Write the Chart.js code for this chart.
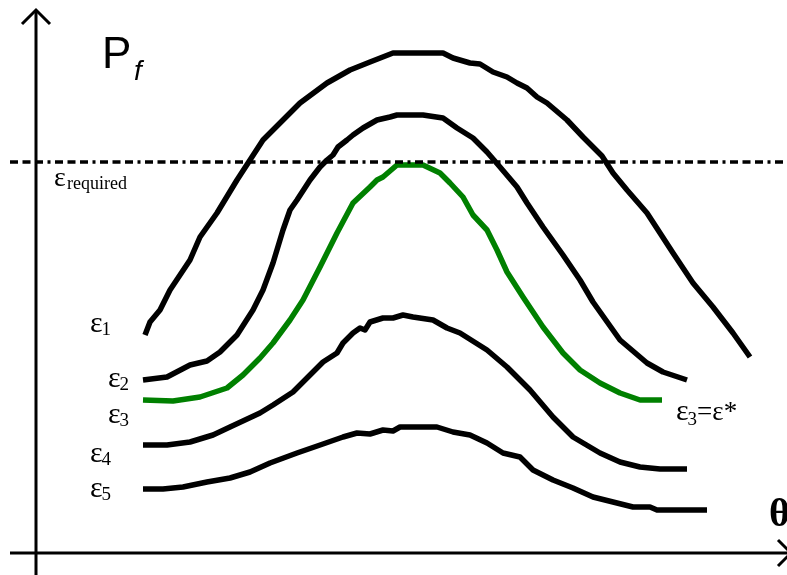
<!DOCTYPE html>
<html>
<head>
<meta charset="utf-8">
<script src="https://cdn.jsdelivr.net/npm/chart.js@4/dist/chart.umd.min.js"></script>
<style>
  html, body { margin: 0; padding: 0; background: #ffffff; }
  #wrap { width: 787px; height: 575px; }
</style>
</head>
<body>
<div id="wrap"><canvas id="c" width="787" height="575"></canvas></div>
<script>
// Failure probability Pf versus angle θ for five strain levels ε1..ε5
const theta1 = [109,114,124,134,154,164,181,201,214,227,244,264,291,314,334,357,407,417,434,444,457,471,481,491,501,511,531,547,566,577,591,611,624,637,657,677,697,714];
const pf1    = [218,231,243,263,293,316,340,373,393,413,430,450,470,483,491,500,500,495,490,489,481,476,470,465,456,450,433,416,397,380,363,340,320,300,270,246,220,196];

const theta2 = [107,131,154,171,184,201,217,227,237,247,254,261,274,284,291,297,302,311,317,327,341,354,361,387,407,421,437,451,464,481,491,507,527,544,557,584,611,627,651];
const pf2    = [173,176,188,192,201,218,243,263,290,323,343,353,373,386,393,398,406,413,418,425,433,436,438,438,435,425,415,401,386,366,350,326,298,273,251,213,190,181,173];

const theta3 = [107,137,164,191,207,224,237,254,267,284,301,317,334,341,347,361,387,404,414,427,437,451,461,471,487,507,527,544,564,584,604,626];
const pf3    = [153,152,156,165,178,195,210,233,253,286,320,350,366,373,376,388,388,380,370,356,338,323,303,281,256,226,200,183,170,160,153,153];

const theta4 = [107,131,154,177,194,224,237,257,271,287,301,307,317,324,329,334,347,357,367,377,397,411,424,451,471,494,517,537,564,584,604,624,651];
const pf4    = [108,108,111,118,126,140,148,161,175,191,200,210,220,225,223,231,235,235,238,236,233,225,220,203,186,163,136,116,100,91,86,84,84];

const theta5 = [107,127,147,171,194,214,234,261,287,307,321,334,347,357,364,401,417,434,451,467,484,497,517,537,557,577,597,614,621,671];
const pf5    = [64,64,66,71,75,81,90,100,109,116,120,119,123,122,126,126,121,118,110,100,96,83,73,65,56,51,46,46,43,43];

// Required level (dash-dot reference line)
const thetaReq = [-26, 751];
const pfReq    = [391, 391];

const curveNames = ['ε1', 'ε2', 'ε3', 'ε4', 'ε5'];

const toPoints = (xs, ys) => xs.map((x, i) => ({ x: x, y: ys[i] }));

const BLACK = '#000000';
const GREEN = '#008000';

function curve(label, xs, ys, color) {
  return {
    label: label,
    data: toPoints(xs, ys),
    borderColor: color,
    borderWidth: 5.5,
    pointRadius: 0,
    tension: 0,
    fill: false,
    borderJoinStyle: 'round',
    borderCapStyle: 'butt'
  };
}

// Axes with arrow heads, and the text annotations
const annotate = {
  id: 'annotate',
  beforeDatasetsDraw(chart) {
    const ctx = chart.ctx;
    const xs = chart.scales.x, ys = chart.scales.y;
    const ox = xs.getPixelForValue(0);
    const oy = ys.getPixelForValue(0);
    ctx.save();
    ctx.strokeStyle = BLACK;
    ctx.lineWidth = 3;
    ctx.lineCap = 'butt';
    // vertical axis
    ctx.beginPath();
    ctx.moveTo(ox, 575);
    ctx.lineTo(ox, 10);
    ctx.stroke();
    ctx.beginPath();
    ctx.moveTo(ox - 14, 24);
    ctx.lineTo(ox, 10);
    ctx.lineTo(ox + 14, 24);
    ctx.stroke();
    // horizontal axis
    ctx.beginPath();
    ctx.moveTo(10, oy);
    ctx.lineTo(790, oy);
    ctx.stroke();
    ctx.beginPath();
    ctx.moveTo(778, oy - 13);
    ctx.lineTo(791, oy);
    ctx.lineTo(778, oy + 13);
    ctx.stroke();
    ctx.restore();
  },
  afterDraw(chart) {
    const ctx = chart.ctx;
    ctx.save();
    ctx.fillStyle = BLACK;
    ctx.textBaseline = 'alphabetic';
    ctx.textAlign = 'left';
    const serif = '"Liberation Serif", "Times New Roman", serif';
    const sans = '"Liberation Sans", Arial, sans-serif';

    // Pf
    ctx.font = '44px ' + sans;
    ctx.fillText('P', 102, 68);
    ctx.font = 'italic 28px ' + sans;
    ctx.fillText('f', 134, 80);

    // θ
    ctx.font = 'bold 40px ' + serif;
    ctx.fillText('θ', 769, 526);

    // ε_required
    ctx.font = '28px ' + serif;
    ctx.fillText('ε', 54, 186);
    ctx.font = '18px ' + serif;
    ctx.fillText('required', 67, 189);

    // curve labels
    const pos = [[90, 332], [108, 387], [108, 423], [90, 462], [90, 497]];
    curveNames.forEach((name, i) => {
      const [x, y] = pos[i];
      ctx.font = '30px ' + serif;
      ctx.fillText(name[0], x, y);
      const w = ctx.measureText(name[0]).width;
      ctx.font = '19px ' + serif;
      ctx.fillText(name.slice(1), x + w - 1, y + 3);
    });

    // ε3 = ε*
    ctx.font = '30px ' + serif;
    let x = 676;
    ctx.fillText('ε', x, 420);
    x += ctx.measureText('ε').width - 1;
    ctx.font = '19px ' + serif;
    ctx.fillText('3', x, 425);
    x += ctx.measureText('3').width;
    ctx.font = '27px ' + serif;
    ctx.fillText('=ε*', x, 420);
    ctx.restore();
  }
};

new Chart(document.getElementById('c'), {
  type: 'line',
  data: {
    datasets: [
      {
        label: 'required',
        data: toPoints(thetaReq, pfReq),
        borderColor: BLACK,
        borderWidth: 3.5,
        borderDash: [8, 4.5, 8, 4.5, 8, 4.5, 3, 4.5],
        pointRadius: 0,
        tension: 0,
        fill: false
      },
      curve('ε1', theta1, pf1, BLACK),
      curve('ε2', theta2, pf2, BLACK),
      curve('ε3', theta3, pf3, GREEN),
      curve('ε4', theta4, pf4, BLACK),
      curve('ε5', theta5, pf5, BLACK)
    ]
  },
  options: {
    responsive: false,
    animation: false,
    layout: { padding: 0 },
    plugins: { legend: { display: false }, tooltip: { enabled: false } },
    scales: {
      x: { type: 'linear', min: -36, max: 751, display: false },
      y: { type: 'linear', min: -22, max: 553, display: false }
    }
  },
  plugins: [annotate]
});
</script>
</body>
</html>
